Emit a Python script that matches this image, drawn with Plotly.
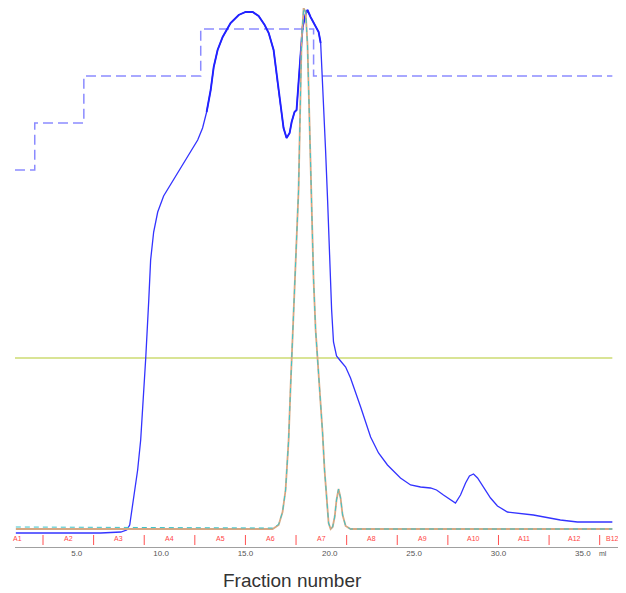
import plotly.graph_objects as go
import numpy as np

# ---- data (volume in ml, signal in arbitrary mAU) ----
uv_ml = [1.39, 4.05, 6.42, 7.61, 7.96, 8.14, 8.38, 8.61, 8.79, 8.97, 9.09, 9.27, 9.38, 9.56, 9.80,
         10.15, 10.69, 11.16, 11.75, 12.17, 12.46, 12.70, 12.94, 13.12, 13.35, 13.65, 14.12, 14.60,
         15.01, 15.43, 15.78, 16.14, 16.38, 16.67, 16.91, 17.09, 17.26, 17.44, 17.62, 17.74, 17.91,
         18.03, 18.15, 18.27, 18.39, 18.57, 18.68, 18.86, 19.04, 19.22, 19.34, 19.46, 19.57, 19.63,
         19.75, 19.87, 19.99, 20.11, 20.22, 20.40, 20.64, 20.94, 21.23, 21.53, 21.83, 22.42, 22.89,
         23.42, 24.19, 24.79, 25.38, 25.97, 26.33, 26.74, 27.16, 27.45, 27.75, 28.05, 28.28, 28.52,
         28.76, 29.11, 29.53, 29.94, 30.53, 32.07, 33.67, 34.68, 36.75]
uv_mau = [-24, -24, -24, -18, -6, 24, 192, 354, 534, 792, 1026, 1374, 1614, 1782, 1902,
          1998, 2088, 2166, 2262, 2334, 2406, 2502, 2634, 2772, 2874, 2952, 3036, 3084,
          3102, 3102, 3078, 3024, 2976, 2874, 2676, 2532, 2406, 2346, 2376, 2442, 2502,
          2514, 2694, 2844, 3012, 3090, 3114, 3072, 3036, 3006, 2982, 2916, 2694, 2574,
          2274, 1974, 1614, 1314, 1122, 1038, 1008, 972, 906, 822, 732, 552, 456,
          384, 306, 264, 252, 246, 234, 204, 174, 156, 204, 276, 318, 330,
          306, 252, 186, 138, 102, 84, 54, 42, 42]

peak_ml = [1.39, 16.61, 16.97, 17.20, 17.38, 17.56, 17.68, 17.80, 17.97, 18.15, 18.27, 18.33, 18.45,
           18.57, 18.68, 18.80, 18.92, 19.04, 19.16, 19.28, 19.46, 19.57, 19.69, 19.81, 19.93,
           20.05, 20.17, 20.29, 20.40, 20.52, 20.64, 20.76, 20.94, 21.23, 36.75]
peak_a = [0, 0, 24, 102, 234, 534, 864, 1194, 1584, 2034, 2634, 2934, 3126,
          3102, 2904, 2394, 1854, 1494, 1194, 1026, 774, 582, 354, 174, 36,
          0, 12, 72, 174, 240, 186, 84, 18, 0, 0]
peak_b = [12, 6, 28, 102, 234, 534, 864, 1194, 1584, 2034, 2634, 2934, 3126,
          3102, 2904, 2394, 1854, 1494, 1194, 1026, 774, 582, 354, 174, 36,
          0, 12, 72, 174, 240, 186, 84, 18, 0, 0]

step_ml = [1.34, 2.51, 5.42, 12.35, 19.04, 36.75]
step_val = [2154, 2436, 2718, 3000, 2718, 2718]

flat_ml = [1.34, 36.75]
flat_val = [1026, 1026]

frac_bounds = [3, 6, 9, 12, 15, 18, 21, 24, 27, 30, 33, 36]
frac_labels = ["A1", "A2", "A3", "A4", "A5", "A6", "A7", "A8", "A9", "A10", "A11", "A12", "B12"]
frac_label_ml = [1.5, 4.5, 7.5, 10.5, 13.5, 16.5, 19.5, 22.5, 25.5, 28.5, 31.5, 34.5, 36.75]

x_ticks = [5, 10, 15, 20, 25, 30, 35]
x_ticktext = ["5.0", "10.0", "15.0", "20.0", "25.0", "30.0", "35.0"]

fig = go.Figure()

fig.add_trace(go.Scatter(x=flat_ml, y=flat_val, mode="lines",
                         line=dict(color="#d9e495", width=2), hoverinfo="skip"))
fig.add_trace(go.Scatter(x=step_ml, y=step_val, mode="lines", line_shape="hv",
                         line=dict(color="rgba(100,100,255,0.75)", width=1.5, dash="10px,5px"),
                         hoverinfo="skip"))

uv_x = np.array(uv_ml)
uv_y = np.array(uv_mau)
fig.add_trace(go.Scatter(x=uv_x, y=uv_y, mode="lines",
                         line=dict(color="#3333ff", width=1.3), hoverinfo="skip"))
top = (uv_x >= 12.6) & (uv_x <= 19.5)
fig.add_trace(go.Scatter(x=uv_x[top], y=uv_y[top], mode="lines",
                         line=dict(color="#2222ff", width=1.9), hoverinfo="skip"))

fig.add_trace(go.Scatter(x=peak_ml, y=peak_a, mode="lines", cliponaxis=False,
                         line=dict(color="#d6a883", width=1.8), hoverinfo="skip"))
fig.add_trace(go.Scatter(x=peak_ml, y=peak_b, mode="lines", cliponaxis=False,
                         line=dict(color="#3cc4c8", width=1.0, dash="5px,4px"), hoverinfo="skip"))

# fraction markers
fx, fy = [], []
for b in frac_bounds:
    fx += [b, b, None]
    fy += [-36, -96, None]
fig.add_trace(go.Scatter(x=fx, y=fy, mode="lines",
                         line=dict(color="#ff5050", width=1), hoverinfo="skip"))

# page offset (body margin) is 8 px
OFF = 8
W, H = 626 - OFF, 593 - OFF
ml, mr, mt, mb = 15 - OFF, 0, 0, 593 - 547
pw, ph = W - ml - mr, H - mt - mb


def px_x(p):
    return (p - OFF - ml) / pw


def px_y(p):
    return (H - mb - (p - OFF)) / ph


annotations = []
for lab, xm in zip(frac_labels, frac_label_ml):
    annotations.append(dict(x=xm, y=-54, xref="x", yref="y", text=lab, showarrow=False,
                            font=dict(size=7, color="#ff4444", family="Liberation Sans")))
annotations.append(dict(x=px_x(609), y=px_y(553), xref="paper", yref="paper", yanchor="middle",
                        text="ml", showarrow=False,
                        font=dict(size=7, color="#555555", family="Liberation Sans")))
annotations.append(dict(x=px_x(292), y=px_y(580), xref="paper", yref="paper", yanchor="middle",
                        text="Fraction number", showarrow=False,
                        font=dict(size=19, color="#333333", family="Liberation Sans")))

fig.update_layout(
    annotations=annotations,
    width=W, height=H,
    margin=dict(l=ml, r=mr, t=mt, b=mb),
    paper_bgcolor="white", plot_bgcolor="white",
    showlegend=False,
    xaxis=dict(range=[1.34, 37.56], showgrid=False, zeroline=False, showline=True,
               linecolor="#a0a0a0", linewidth=1, ticks="", tickvals=x_ticks, ticktext=x_ticktext,
               ticklabelstandoff=-2,
               tickfont=dict(size=8, color="#555555", family="Liberation Sans")),
    yaxis=dict(range=[-108, 3126], visible=False),
)

fig.write_html("out.html")
